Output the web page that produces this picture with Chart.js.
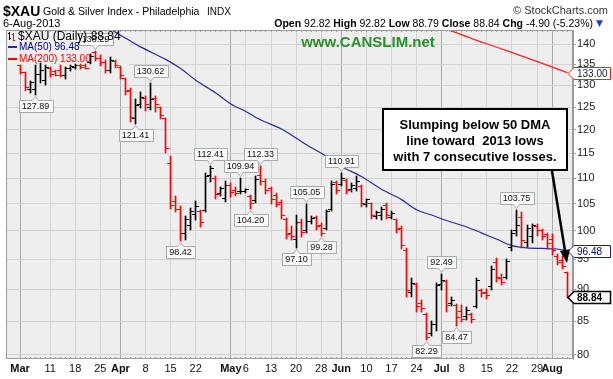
<!DOCTYPE html>
<html>
<head>
<meta charset="utf-8">
<title>$XAU Gold &amp; Silver Index</title>
<script src="https://cdn.jsdelivr.net/npm/chart.js@4.4.1/dist/chart.umd.min.js"></script>
<style>
  html, body { margin: 0; padding: 0; background: #fff; }
  #wrap { position: relative; width: 613px; height: 379px; overflow: hidden; font-family: Arial, "Liberation Sans", sans-serif; color: #000; }
  #chart { position: absolute; left: 0; top: 0; }
  .t { position: absolute; white-space: nowrap; line-height: 1; }
</style>
</head>
<body>
<div id="wrap">
  <canvas id="chart" width="613" height="379"></canvas>
  <div class="t" style="left:3px;top:4px;font-size:14px;font-weight:bold;">$XAU</div>
  <div class="t" style="left:43px;top:6px;font-size:10.5px;">Gold &amp; Silver Index - Philadelphia</div>
  <div class="t" style="left:207px;top:7px;font-size:10px;">INDX</div>
  <div class="t" style="right:5px;top:5px;font-size:11px;color:#333;">© StockCharts.com</div>
  <div class="t" style="left:3px;top:18px;font-size:11px;">6-Aug-2013</div>
  <div class="t" style="right:20px;top:18px;font-size:10.5px;"><b>Open</b> 92.82 <b>High</b> 92.82 <b>Low</b> 88.79 <b>Close</b> 88.84 <b>Chg</b> -4.90 (-5.23%)</div>
  <div class="t" style="right:10px;top:19px;font-size:9px;color:#1f3fbf;font-family:'DejaVu Sans';">▼</div>
</div>
<script>
// trading days 1-Mar-2013 .. 6-Aug-2013, one entry per session (index = day number)
const tickDays  = [0, 6, 11, 16, 20, 25, 30, 35, 42, 45, 50, 55, 60, 64, 69, 74, 79, 84, 88, 93, 98, 103, 106];
const tickNames = ['Mar', '11', '18', '25', 'Apr', '8', '15', '22', 'May', '6', '13', '20', '28', 'Jun', '10', '17', '24', 'Jul', '8', '15', '22', '29', 'Aug'];
const monthDays = [0, 20, 42, 64, 84, 106];

const opens = [134.6,133.0,129.0,129.0,132.6,131.2,134.0,133.2,133.5,132.2,
  134.0,134.3,134.7,134.8,135.5,137.8,136.5,135.5,133.5,135.8,
  134.3,131.5,128.8,122.5,125.5,127.0,125.0,127.0,125.0,122.5,
  113.0,105.5,104.0,99.5,101.0,103.0,103.5,103.8,110.5,110.0,
  107.0,106.0,108.6,107.6,107.3,107.3,106.3,105.6,110.5,109.3,
  108.0,106.5,105.3,102.0,99.5,98.5,101.5,100.0,101.8,102.5,
  101.0,100.5,104.0,109.2,108.8,109.6,107.7,108.0,108.3,104.8,
  105.0,102.6,102.8,104.6,102.5,102.0,100.5,96.6,89.5,90.8,
  87.8,86.0,83.2,84.5,90.8,91.3,87.7,87.5,86.5,85.7,
  86.0,87.3,89.8,89.5,90.5,94.5,91.8,92.0,97.0,100.0,
  102.5,98.0,99.0,100.8,100.0,99.4,98.5,95.5,94.8,92.82];
const highs = [134.8,133.2,131.1,134.8,135.3,134.8,134.4,133.7,134.8,134.4,
  134.8,135.0,135.0,135.1,137.5,138.29,137.3,136.0,136.8,136.0,
  134.5,131.6,129.4,126.9,128.4,127.6,130.62,127.6,125.1,122.6,
  114.4,106.5,104.5,102.8,104.2,105.5,103.9,110.9,112.41,110.3,
  108.3,109.4,109.1,108.3,109.94,107.9,106.6,110.3,112.33,109.8,
  108.3,107.1,105.8,102.4,100.9,102.9,102.1,105.05,102.8,102.8,
  101.5,103.9,109.4,109.4,110.91,109.8,109.1,110.3,108.6,106.0,
  105.2,103.7,104.4,105.1,103.6,102.2,100.8,96.9,91.9,91.0,
  88.3,86.3,85.0,91.0,92.49,91.5,88.8,87.7,87.5,87.2,
  86.3,91.9,90.0,90.0,93.8,95.2,92.5,95.0,100.2,103.75,
  103.4,101.0,101.2,101.2,100.3,99.7,99.4,95.9,95.6,92.82];
const lows = [132.8,128.8,128.4,127.89,130.8,130.4,132.1,132.4,132.1,131.7,
  133.5,134.0,134.0,134.0,135.3,136.0,134.8,133.2,133.2,134.4,
  131.8,128.0,121.8,121.41,125.1,124.3,124.5,124.0,122.6,115.3,
  104.2,103.7,98.42,98.6,100.3,102.1,100.9,103.7,109.4,106.2,
  106.7,105.5,106.5,106.7,107.1,107.2,104.20,105.3,108.8,107.1,
  105.2,104.5,102.4,98.8,98.5,97.10,99.1,99.8,101.5,100.3,
  99.28,100.3,103.8,107.1,108.6,107.1,107.4,107.7,104.5,104.6,
  102.4,102.4,102.2,102.3,102.3,99.8,97.0,89.0,89.0,86.6,
  86.6,82.29,82.9,83.7,90.0,86.6,87.5,84.47,85.0,85.4,
  84.8,87.2,89.0,88.7,90.0,91.4,90.9,91.9,96.7,99.2,
  97.1,97.3,98.0,99.2,98.5,97.0,95.9,94.2,93.6,88.79];
const closes = [133.0,129.5,130.6,132.5,133.5,134.2,132.5,132.4,132.3,134.0,
  134.5,134.8,134.3,134.1,137.0,136.5,135.5,133.5,136.0,134.6,
  132.2,128.6,122.6,125.4,127.2,125.5,126.8,125.5,123.0,116.0,
  104.6,104.0,99.5,102.0,103.5,104.5,101.5,110.3,111.8,106.8,
  108.0,108.6,107.2,107.0,107.4,107.7,105.0,109.8,109.3,107.5,
  105.8,104.9,102.8,99.3,99.0,101.5,99.8,101.8,102.3,100.8,
  99.6,103.5,108.8,107.6,110.0,107.6,108.5,109.3,105.0,105.8,
  102.9,103.4,104.0,102.8,103.2,100.3,97.4,89.8,91.0,87.2,
  86.9,82.6,84.5,90.6,91.5,87.5,88.3,85.5,85.3,86.6,
  85.2,91.5,89.3,89.0,93.3,92.0,91.2,94.6,99.5,101.0,
  98.3,100.5,101.0,100.0,99.0,97.8,96.5,94.5,93.74,88.84];
const closeBefore = 134.4;   // 28-Feb close, only used for the first bar colour

const ma50Days = [17,19,22,24,29,32,35,39,42,45,48,52,55,58,61,64,68,72,76,79,82,85,89,92,95,98,101,104,107,109];
const ma50 = [145.2,143.0,140.8,139.3,136.2,134.0,131.2,128.2,125.7,124.0,122.1,120.2,118.2,116.2,114.4,112.3,110.3,107.8,105.8,103.9,102.9,101.9,100.7,99.6,98.5,97.4,97.0,96.9,96.8,96.48];
const ma200Days = [85, 90, 95, 100, 105, 109];
const ma200 = [143.8, 141.4, 139.2, 137.0, 134.8, 133.0];

const highMarks = [15, 26, 38, 44, 48, 57, 64, 84, 99];
const lowMarks  = [3, 23, 32, 46, 55, 60, 81, 87];
const yTicks = [80, 85, 90, 95, 100, 105, 110, 115, 120, 125, 130, 135, 140];

const RED = '#ff0000', BLACK = '#000000';
const days = closes.map((c, i) => i);
const up = closes.map((c, i) => c >= (i ? closes[i - 1] : closeBefore));

function tickImage(color, left) {
  const c = document.createElement('canvas');
  c.width = 7; c.height = 1;
  const g = c.getContext('2d');
  g.fillStyle = color;
  g.fillRect(left ? 0 : 4, 0, 3, 1);
  return c;
}
const openTick = { up: tickImage(BLACK, true), dn: tickImage(RED, true) };
const closeTick = { up: tickImage(BLACK, false), dn: tickImage(RED, false) };

const PLOT_BG = '#eeeeee';

const snap = {
  id: 'snap',
  afterDatasetsUpdate(chart) {
    chart.data.datasets.forEach((ds, di) => {
      if (!ds.snap) return;
      chart.getDatasetMeta(di).data.forEach(el => {
        el.x = Math.floor(el.x) + 0.5;
        if (ds.type === 'bar') { el.y = Math.round(el.y); el.base = Math.round(el.base) + 1; }
        else el.y = Math.floor(el.y) + 0.5;
      });
    });
  }
};

function valueLabel(ctx, x, y, text, above) {
  ctx.font = '9px Arial';
  const w = Math.ceil(ctx.measureText(text).width) + 6, h = 12;
  const cx = Math.floor(x) + 0.5;
  const bx = Math.round(cx - w / 2) + 0.5;
  let by;
  ctx.beginPath();
  if (above) {
    const tip = Math.round(y) - 2;
    by = tip - 4 - h + 0.5;
    ctx.moveTo(bx, by); ctx.lineTo(bx + w, by); ctx.lineTo(bx + w, by + h);
    ctx.lineTo(cx + 3, by + h); ctx.lineTo(cx, by + h + 4); ctx.lineTo(cx - 3, by + h);
    ctx.lineTo(bx, by + h); ctx.closePath();
  } else {
    const tip = Math.round(y) + 2;
    by = tip + 4 + 0.5;
    ctx.moveTo(bx, by); ctx.lineTo(cx - 3, by); ctx.lineTo(cx, by - 4); ctx.lineTo(cx + 3, by);
    ctx.lineTo(bx + w, by); ctx.lineTo(bx + w, by + h); ctx.lineTo(bx, by + h); ctx.closePath();
  }
  ctx.fillStyle = 'rgba(250,250,250,0.92)';
  ctx.fill();
  ctx.strokeStyle = '#a4acac';
  ctx.lineWidth = 1;
  ctx.stroke();
  ctx.fillStyle = '#111';
  ctx.textAlign = 'center';
  ctx.textBaseline = 'middle';
  ctx.fillText(text, cx, by + h / 2 + 0.5);
}

function priceTag(ctx, chart, value, text, border, color, bold) {
  const y = Math.round(chart.scales.y.getPixelForValue(value)) + 0.5;
  const tip = chart.chartArea.right - 5, bl = chart.chartArea.right + 1, br = 610.5;
  ctx.beginPath();
  ctx.moveTo(tip, y); ctx.lineTo(bl, y - 6); ctx.lineTo(br, y - 6);
  ctx.lineTo(br, y + 6); ctx.lineTo(bl, y + 6); ctx.closePath();
  ctx.fillStyle = '#fff';
  ctx.fill();
  ctx.strokeStyle = border;
  ctx.lineWidth = bold ? 1.5 : 1;
  ctx.stroke();
  ctx.fillStyle = color;
  ctx.font = (bold ? 'bold ' : '') + '10px Arial';
  ctx.textAlign = 'left';
  ctx.textBaseline = 'middle';
  ctx.fillText(text, bl + 3, y + 0.5);
}

const decor = {
  id: 'decor',
  beforeDraw(chart) {
    const { ctx, chartArea: a } = chart;
    ctx.save();
    ctx.fillStyle = '#fff';
    ctx.fillRect(0, 0, chart.width, chart.height);
    ctx.fillStyle = PLOT_BG;
    ctx.fillRect(a.left, a.top, a.right - a.left, a.bottom - a.top);
    ctx.restore();
  },
  beforeDatasetsDraw(chart) {
    const { ctx, chartArea: a } = chart;
    ctx.save();
    ctx.fillStyle = PLOT_BG;
    ctx.fillRect(a.left + 1, a.top + 1, 122, 37);
    // day ticks along top and bottom border
    ctx.fillStyle = '#a0a0a0';
    days.forEach(d => {
      const x = Math.floor(chart.scales.x.getPixelForValue(d));
      ctx.fillRect(x, a.bottom - 2, 1, 2);
      ctx.fillRect(x, a.top, 1, 2);
    });
    ctx.restore();
  },
  afterDatasetsDraw(chart) {
    const { ctx, chartArea: a, scales } = chart;
    ctx.save();
    ctx.strokeStyle = '#9a9a9a';
    ctx.lineWidth = 1;
    ctx.strokeRect(a.left + 0.5, a.top + 0.5, a.right - a.left - 1, a.bottom - a.top - 1);

    highMarks.forEach(i => valueLabel(ctx, scales.x.getPixelForValue(i), scales.y.getPixelForValue(highs[i]), highs[i].toFixed(2), true));
    lowMarks.forEach(i => valueLabel(ctx, scales.x.getPixelForValue(i), scales.y.getPixelForValue(lows[i]), lows[i].toFixed(2), false));

    // legend
    const L = a.left;
    ctx.fillStyle = BLACK;
    ctx.fillRect(L + 3, 32, 1, 8); ctx.fillRect(L + 2, 33, 1, 1); ctx.fillRect(L + 4, 38, 1, 1);
    ctx.fillStyle = RED;
    ctx.fillRect(L + 7, 33, 1, 8); ctx.fillRect(L + 6, 34, 1, 1); ctx.fillRect(L + 8, 40, 1, 1);
    ctx.textAlign = 'left';
    ctx.textBaseline = 'middle';
    ctx.fillStyle = '#000';
    ctx.font = '12px Arial';
    ctx.fillText('$XAU (Daily) ' + closes[closes.length - 1].toFixed(2), L + 12, 37);
    ctx.fillStyle = '#2a2a9a';
    ctx.fillRect(L + 2, 46, 9, 2);
    ctx.fillStyle = '#00008b';
    ctx.font = '10px Arial';
    ctx.fillText('MA(50) ' + ma50[ma50.length - 1].toFixed(2), L + 13, 47.5);
    ctx.fillStyle = RED;
    ctx.fillRect(L + 2, 58, 9, 2);
    ctx.fillText('MA(200) ' + ma200[ma200.length - 1].toFixed(2), L + 13, 59.5);

    ctx.fillStyle = '#2b8f2b';
    ctx.font = 'bold 15px Arial';
    ctx.textAlign = 'center';
    ctx.fillText('www.CANSLIM.net', 368, 43);
    ctx.restore();
  },
  afterDraw(chart) {
    const { ctx, chartArea: a, scales } = chart;
    ctx.save();
    priceTag(ctx, chart, ma200[ma200.length - 1], ma200[ma200.length - 1].toFixed(2), '#ff2020', '#222', false);
    priceTag(ctx, chart, ma50[ma50.length - 1], ma50[ma50.length - 1].toFixed(2), '#1a1aa0', '#000066', false);
    priceTag(ctx, chart, closes[closes.length - 1], closes[closes.length - 1].toFixed(2), '#000', '#000', true);

    // callout
    const bw = 184, bh = 61, br = a.right - 6, bl = br - bw, bt = 109;
    ctx.fillStyle = '#fff';
    ctx.fillRect(bl, bt, bw, bh);
    ctx.strokeStyle = '#000';
    ctx.lineWidth = 2;
    ctx.strokeRect(bl, bt, bw, bh);
    ctx.fillStyle = '#000';
    ctx.font = 'bold 13px Arial';
    ctx.textAlign = 'center';
    ctx.textBaseline = 'middle';
    const cx = bl + bw / 2;
    ctx.fillText('Slumping below 50 DMA', cx, bt + 16);
    ctx.fillText('line toward  2013 lows', cx, bt + 32);
    ctx.fillText('with 7 consecutive losses.', cx, bt + 48);

    const x0 = br - 15, y0 = bt + bh + 1;
    const x1 = a.right - 6, y1 = scales.y.getPixelForValue(94.4);
    const ang = Math.atan2(y1 - y0, x1 - x0);
    const hl = 13, hw = 5;
    const bxp = x1 - hl * Math.cos(ang), byp = y1 - hl * Math.sin(ang);
    ctx.lineWidth = 2.5;
    ctx.beginPath(); ctx.moveTo(x0, y0); ctx.lineTo(bxp, byp); ctx.stroke();
    ctx.beginPath();
    ctx.moveTo(x1, y1);
    ctx.lineTo(bxp + hw * Math.sin(ang), byp - hw * Math.cos(ang));
    ctx.lineTo(bxp - hw * Math.sin(ang), byp + hw * Math.cos(ang));
    ctx.closePath();
    ctx.fill();
    ctx.restore();
  }
};

new Chart(document.getElementById('chart').getContext('2d'), {
  type: 'bar',
  data: {
    datasets: [
      {
        type: 'bar', label: '$XAU', snap: true, order: 0,
        data: days.map(i => ({ x: i, y: [lows[i], highs[i]] })),
        backgroundColor: up.map(u => u ? BLACK : RED),
        borderWidth: 0, barThickness: 1, grouped: false
      },
      {
        type: 'line', label: 'open', snap: true, order: 0, showLine: false,
        data: days.map(i => ({ x: i, y: opens[i] })),
        pointRadius: 2, pointStyle: c => up[c.dataIndex] ? openTick.up : openTick.dn
      },
      {
        type: 'line', label: 'close', snap: true, order: 0, showLine: false,
        data: days.map(i => ({ x: i, y: closes[i] })),
        pointRadius: 2, pointStyle: c => up[c.dataIndex] ? closeTick.up : closeTick.dn
      },
      {
        type: 'line', label: 'MA(50)', order: 1,
        data: ma50Days.map((d, k) => ({ x: d, y: ma50[k] })),
        borderColor: '#2a2a9a', borderWidth: 1.2, pointRadius: 0, tension: 0.3
      },
      {
        type: 'line', label: 'MA(200)', order: 1,
        data: ma200Days.map((d, k) => ({ x: d, y: ma200[k] })),
        borderColor: '#ff2020', borderWidth: 1.2, pointRadius: 0, tension: 0.3
      }
    ]
  },
  options: {
    responsive: false,
    animation: false,
    devicePixelRatio: 1,
    layout: { padding: { left: 6, top: 30, right: 0, bottom: 0 } },
    plugins: { legend: { display: false }, tooltip: { enabled: false } },
    scales: {
      x: {
        type: 'linear', min: -2.79, max: 110.16, offset: false,
        afterBuildTicks: s => { s.ticks = tickDays.map(v => ({ value: v })); },
        afterFit: s => { s.height = 20; },
        grid: {
          offset: false, drawTicks: false,
          color: c => (c.tick && monthDays.includes(c.tick.value)) ? '#a8a8a8' : '#d3d3d3'
        },
        border: { display: false },
        ticks: {
          autoSkip: false, maxRotation: 0, padding: 3, color: '#111',
          callback: (v, i) => tickNames[i],
          font: c => ({ family: 'Arial', size: 11, weight: (c.tick && monthDays.includes(c.tick.value)) ? 'bold' : 'normal' })
        }
      },
      y: {
        type: 'logarithmic', position: 'right', min: 79.4, max: 143.6,
        afterBuildTicks: s => { s.ticks = yTicks.map(v => ({ value: v })); },
        afterFit: s => { s.width = 40; },
        grid: { color: '#d3d3d3', drawTicks: true, tickLength: 3, tickColor: '#999' },
        border: { display: true, color: '#9a9a9a' },
        ticks: {
          padding: 1, color: '#222', font: { family: 'Arial', size: 11 },
          callback: v => String(v)
        }
      }
    }
  },
  plugins: [snap, decor]
});
</script>
</body>
</html>
